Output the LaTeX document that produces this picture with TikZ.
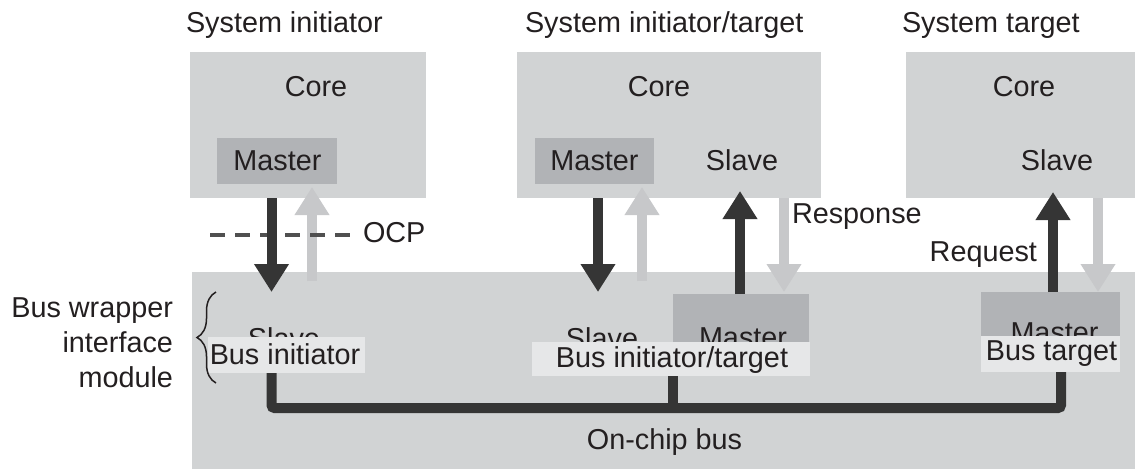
\documentclass[tikz,border=0pt]{standalone}
\usepackage{fontspec}
\setmainfont{Liberation Sans}
\usetikzlibrary{arrows.meta,decorations.pathreplacing,calc}

\definecolor{txt}{HTML}{231F20}
\definecolor{panel}{HTML}{D1D3D4}
\definecolor{portgray}{HTML}{B1B3B6}
\definecolor{tag}{HTML}{E6E7E8}
\definecolor{heavy}{HTML}{353535}
\definecolor{faint}{HTML}{C7C8CA}
\definecolor{dashgray}{HTML}{505050}

\begin{document}
\begin{tikzpicture}[x=1pt,y=-1pt,
  every node/.style={inner sep=0pt, outer sep=0pt},
  lbl/.style={anchor=base, text=txt, font=\fontsize{28.8}{35}\selectfont},
  block/.style={fill=#1, draw=none, rectangle},
  req/.style={draw=heavy, line width=10pt, -{Triangle[width=33pt,length=28pt]}},
  rsp/.style={draw=faint, line width=10pt, -{Triangle[width=33pt,length=28pt]}},
  busline/.style={draw=heavy, line width=10pt, rounded corners=3pt},
  ocpline/.style={draw=dashgray, line width=3.5pt, dash pattern=on 15pt off 10pt},
  bracket/.style={draw=txt, line width=1.5pt, decorate,
    decoration={brace, amplitude=19pt, aspect=0.5}}
]
\useasboundingbox (0,0) rectangle (1135,469);

% column positions of the vertical links
\coordinate (xa) at (271.5,0);
\coordinate (xb) at (312,0);
\coordinate (xc) at (598,0);
\coordinate (xd) at (642,0);
\coordinate (xe) at (740,0);
\coordinate (xf) at (784,0);
\coordinate (xg) at (1053,0);
\coordinate (xh) at (1098,0);
\coordinate (xm) at (673,0);
\coordinate (xr) at (1061,0);
\coordinate (busy) at (0,408);

% cores
\node[block=panel, minimum width=236pt, minimum height=146pt] (core1) at (308,125) {};
\node[block=panel, minimum width=304pt, minimum height=146pt] (core2) at (669,125) {};
\node[block=panel, minimum width=229pt, minimum height=146pt] (core3) at (1020.5,125) {};
\node[block=portgray, minimum width=120pt, minimum height=46pt] (mst1) at (277,161) {};
\node[block=portgray, minimum width=119pt, minimum height=46pt] (mst2) at (594.5,161) {};

% bus wrapper area
\node[block=panel, minimum width=943pt, minimum height=197pt] (wrap) at (663.5,370.5) {};

% master ports of the bus wrappers
\node[block=portgray, minimum width=136pt, minimum height=48pt] (bmst2) at (741,318) {};
\node[block=portgray, minimum width=139pt, minimum height=44pt] (bmst3) at (1050.5,314) {};

% response paths (light)
\draw[rsp] (xb |- 0,281) -- ($(mst1.south -| xb)+(0,3)$);
\draw[rsp] (xd |- 0,281) -- ($(mst2.south -| xd)+(0,3)$);
\draw[rsp] (core2.south -| xf) -- ($(bmst2.north -| xf)+(0,-2)$);
\draw[rsp] (core3.south -| xh) -- (bmst3.north -| xh);

% OCP boundary
\coordinate (ocpL) at (210,235);
\node[lbl, anchor=base west] (ocp) at (363,242.5) {OCP};
\draw[ocpline] (ocpL) -- (ocpL -| 353,0);

% request paths (dark)
\draw[req] (core1.south -| xa) -- (xa |- 0,292);
\draw[req] (core2.south -| xc) -- (xc |- 0,292);
\draw[req] (bmst2.north -| xe) -- ($(core2.south -| xe)+(0,-7)$);
\draw[req] (bmst3.north -| xg) -- ($(core3.south -| xg)+(0,-6)$);

% port names on the bus side, partly hidden by the wrapper tags
\node[lbl] (bslv1) at (284,348.5) {Slave};
\node[lbl] (bslv2) at (602,348.5) {Slave};
\node[lbl] (bmtx2) at (743,347.5) {Master};
\node[lbl] (bmtx3) at (1054.5,342.5) {Master};

% wrapper tags
\node[block=tag, minimum width=157pt, minimum height=36pt] (lab1) at (286.5,355) {};
\node[block=tag, minimum width=278pt, minimum height=34pt] (lab2) at (671,359) {};
\node[block=tag, minimum width=139pt, minimum height=36pt] (lab3) at (1050.5,354) {};
\node[lbl] (labt1) at (285,364) {Bus initiator};
\node[lbl] (labt2) at (672,367) {Bus initiator/target};
\node[lbl] (labt3) at (1051.5,360) {Bus target};

% on-chip bus
\draw[busline] (lab1.south -| xa) |- (busy -| xr) -- (lab3.south -| xr);
\draw[busline] (lab2.south -| xm) -- (busy -| xm);
\node[lbl] (bus) at (664.5,449) {On-chip bus};

% titles and core labels
\node[lbl, anchor=base west] (ttl1) at (186,32) {System initiator};
\node[lbl, anchor=base west] (ttl2) at (525,32) {System initiator/target};
\node[lbl, anchor=base west] (ttl3) at (902,32) {System target};
\node[lbl] (c1) at (316,96.5) {Core};
\node[lbl] (c2) at (659,96.5) {Core};
\node[lbl] (c3) at (1024,96.5) {Core};
\node[lbl] (m1) at (277.5,170.5) {Master};
\node[lbl] (m2) at (594.5,170.5) {Master};
\node[lbl] (s2) at (742,170.5) {Slave};
\node[lbl] (s3) at (1057,170.5) {Slave};

\node[lbl, anchor=base west] (resp) at (792,223) {Response};
\node[lbl, anchor=base east] (reqt) at (1037,261) {Request};

% interface module note (base anchor sits on the last line)
\node[lbl, anchor=base east, align=right] (bwim) at (173,387) {Bus wrapper\\interface\\module};
\draw[bracket] (216,383) -- (216,292);
\end{tikzpicture}
\end{document}
